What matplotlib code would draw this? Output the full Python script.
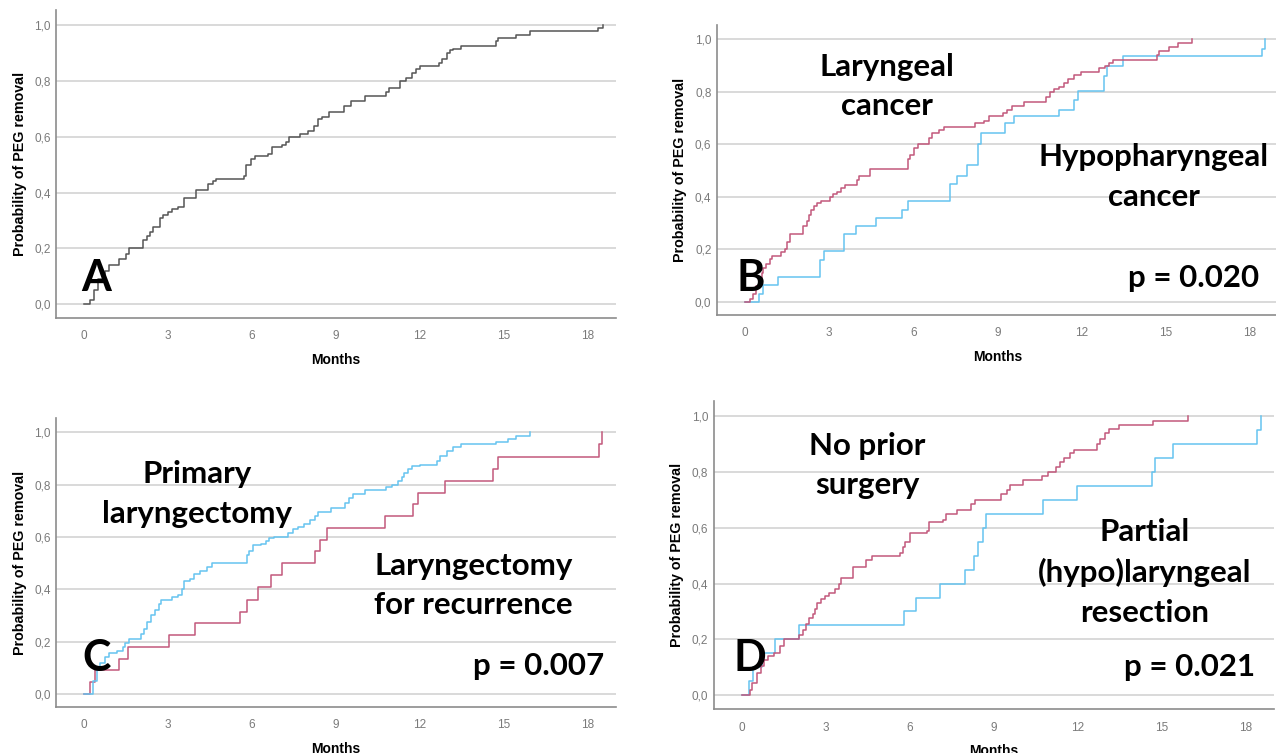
import matplotlib.pyplot as plt

# Kaplan-Meier style cumulative probability of PEG removal (months)
months_all = [0, 0.19, 0.35, 0.5, 0.73, 0.87, 1.24, 1.5, 1.6, 2.1,
              2.25, 2.35, 2.45, 2.69, 2.8, 2.98, 3.13, 3.35, 3.57, 4.0,
              4.44, 4.6, 4.7, 5.7, 5.79, 5.97, 6.11, 6.55, 6.7, 7.06,
              7.2, 7.32, 7.71, 8.0, 8.22, 8.37, 8.5, 8.73, 9.3, 9.53,
              10.04, 10.77, 10.9, 11.28, 11.5, 11.72, 11.85, 12.0, 12.66, 12.8,
              12.95, 13.06, 13.17, 13.46, 14.7, 14.8, 15.42, 15.94, 18.37, 18.53]
prob_all = [0, 0.014, 0.05, 0.09, 0.12, 0.14, 0.16, 0.18, 0.20, 0.23,
            0.245, 0.26, 0.275, 0.31, 0.32, 0.33, 0.34, 0.35, 0.38, 0.41,
            0.43, 0.44, 0.45, 0.46, 0.50, 0.52, 0.53, 0.54, 0.565, 0.57,
            0.58, 0.60, 0.61, 0.62, 0.64, 0.665, 0.67, 0.69, 0.71, 0.73,
            0.745, 0.76, 0.775, 0.80, 0.81, 0.83, 0.845, 0.855, 0.865, 0.88,
            0.90, 0.91, 0.915, 0.925, 0.945, 0.955, 0.965, 0.978, 0.99, 1.0]

# B: tumour site
months_laryngeal = [0, 0.17, 0.29, 0.39, 0.5, 0.6, 0.65, 0.75, 0.9, 0.97,
                    1.29, 1.43, 1.5, 1.62, 2.08, 2.2, 2.27, 2.34, 2.46, 2.57,
                    2.7, 3.02, 3.14, 3.28, 3.43, 3.57, 4.0, 4.08, 4.45, 5.81,
                    5.88, 6.03, 6.17, 6.56, 6.68, 6.9, 7.08, 8.2, 8.53, 8.7,
                    9.2, 9.35, 9.5, 9.93, 10.73, 10.87, 11.0, 11.2, 11.38, 11.52,
                    11.74, 11.96, 12.6, 12.82, 12.97, 13.1, 14.7, 14.77, 15.13, 15.42,
                    15.93]
prob_laryngeal = [0, 0.01, 0.03, 0.06, 0.09, 0.11, 0.13, 0.145, 0.165, 0.175,
                  0.19, 0.20, 0.23, 0.26, 0.29, 0.31, 0.33, 0.35, 0.365, 0.375,
                  0.385, 0.40, 0.41, 0.42, 0.435, 0.445, 0.465, 0.48, 0.505, 0.545,
                  0.56, 0.585, 0.60, 0.625, 0.645, 0.655, 0.665, 0.68, 0.69, 0.71,
                  0.72, 0.73, 0.745, 0.76, 0.78, 0.80, 0.81, 0.82, 0.835, 0.85,
                  0.865, 0.875, 0.89, 0.90, 0.91, 0.92, 0.94, 0.955, 0.97, 0.985,
                  1.0]
months_hypo = [0, 0.5, 0.65, 1.16, 2.67, 2.8, 3.54, 3.96, 4.68, 5.6,
               5.81, 7.29, 7.55, 7.9, 8.3, 8.41, 9.28, 9.57, 11.2, 11.71,
               11.86, 12.78, 12.92, 13.47, 18.42, 18.53]
prob_hypo = [0, 0.03, 0.065, 0.095, 0.16, 0.195, 0.26, 0.29, 0.32, 0.35,
             0.385, 0.45, 0.48, 0.52, 0.60, 0.645, 0.68, 0.71, 0.73, 0.77,
             0.805, 0.86, 0.90, 0.935, 0.965, 1.0]

# C: primary vs salvage laryngectomy
months_primary = [0, 0.33, 0.44, 0.58, 0.73, 0.87, 1.16, 1.38, 1.46, 1.6,
                  2.04, 2.14, 2.26, 2.4, 2.52, 2.66, 2.76, 3.13, 3.35, 3.49,
                  3.57, 3.78, 3.93, 4.15, 4.37, 4.58, 5.82, 5.9, 6.04, 6.33,
                  6.48, 6.62, 6.77, 7.28, 7.47, 7.64, 7.86, 8.08, 8.25, 8.37,
                  8.8, 9.31, 9.46, 9.6, 10.04, 10.77, 10.99, 11.2, 11.35, 11.42,
                  11.57, 11.71, 12.0, 12.59, 12.73, 12.95, 13.17, 13.46, 14.7, 15.13,
                  15.42, 15.93]
prob_primary = [0, 0.05, 0.10, 0.12, 0.14, 0.155, 0.165, 0.18, 0.195, 0.21,
                0.23, 0.25, 0.275, 0.30, 0.32, 0.345, 0.36, 0.37, 0.38, 0.40,
                0.43, 0.44, 0.46, 0.47, 0.485, 0.50, 0.53, 0.545, 0.57, 0.575,
                0.585, 0.595, 0.60, 0.615, 0.63, 0.64, 0.65, 0.665, 0.68, 0.695,
                0.71, 0.73, 0.75, 0.765, 0.78, 0.79, 0.80, 0.815, 0.83, 0.845,
                0.86, 0.87, 0.875, 0.89, 0.91, 0.93, 0.945, 0.955, 0.965, 0.975,
                0.985, 1.0]
months_recurrence = [0, 0.22, 0.39, 1.24, 1.57, 3.03, 3.97, 5.57, 5.82, 6.21,
                     6.69, 7.06, 8.26, 8.44, 8.66, 10.74, 11.74, 11.93, 12.88, 14.62,
                     14.8, 18.38, 18.51]
prob_recurrence = [0, 0.045, 0.09, 0.135, 0.18, 0.225, 0.27, 0.315, 0.36, 0.41,
                   0.455, 0.50, 0.545, 0.59, 0.635, 0.68, 0.725, 0.77, 0.815, 0.86,
                   0.905, 0.955, 1.0]

# D: prior surgery
months_no_prior = [0, 0.29, 0.36, 0.54, 0.68, 0.8, 0.94, 1.16, 1.38, 1.52,
                   2.03, 2.17, 2.29, 2.39, 2.53, 2.6, 2.68, 2.82, 2.97, 3.11,
                   3.33, 3.48, 3.55, 3.98, 4.42, 4.66, 5.65, 5.77, 5.84, 6.0,
                   6.6, 6.69, 7.17, 7.31, 7.67, 8.18, 8.33, 9.27, 9.48, 9.58,
                   10.06, 10.72, 10.93, 11.22, 11.37, 11.51, 11.73, 11.87, 12.67, 12.81,
                   12.96, 13.1, 13.47, 14.7, 15.93]
prob_no_prior = [0, 0.02, 0.045, 0.08, 0.105, 0.125, 0.14, 0.15, 0.175, 0.20,
                 0.215, 0.235, 0.255, 0.275, 0.29, 0.31, 0.33, 0.345, 0.355, 0.365,
                 0.38, 0.40, 0.42, 0.46, 0.485, 0.50, 0.51, 0.53, 0.55, 0.58,
                 0.59, 0.62, 0.63, 0.65, 0.665, 0.685, 0.70, 0.72, 0.735, 0.755,
                 0.77, 0.785, 0.80, 0.82, 0.835, 0.85, 0.87, 0.88, 0.90, 0.92,
                 0.94, 0.955, 0.97, 0.985, 1.0]
months_partial = [0, 0.26, 0.41, 0.72, 1.2, 2.03, 5.79, 6.23, 7.07, 7.96,
                  8.28, 8.43, 8.62, 8.73, 10.76, 11.96, 14.65, 14.74, 15.39, 18.39,
                  18.53]
prob_partial = [0, 0.05, 0.10, 0.15, 0.20, 0.25, 0.30, 0.35, 0.40, 0.45,
                0.50, 0.55, 0.60, 0.65, 0.70, 0.75, 0.80, 0.85, 0.90, 0.95,
                1.0]

x_ticks = [0, 3, 6, 9, 12, 15, 18]
y_ticks = [0.0, 0.2, 0.4, 0.6, 0.8, 1.0]
y_tick_labels = ['0,0', '0,2', '0,4', '0,6', '0,8', '1,0']

RED = '#c2587c'
BLUE = '#66c4f0'
GREY = '#555555'
ANNOT_FONT = ['Lato', 'DejaVu Sans']
TICK_FONT = ['Liberation Sans Narrow', 'Liberation Sans', 'DejaVu Sans']
LABEL_FONT = ['Liberation Sans', 'DejaVu Sans']


def style_axes(ax):
    ax.set_xlim(-1, 19)
    ax.set_ylim(-0.05, 1.055)
    ax.set_xticks(x_ticks)
    ax.set_yticks(y_ticks)
    ax.set_yticklabels(y_tick_labels)
    for lab in ax.get_xticklabels() + ax.get_yticklabels():
        lab.set_family(TICK_FONT)
    ax.tick_params(axis='both', length=0, labelsize=8.5, colors='#7a7a7a')
    ax.tick_params(axis='x', pad=9)
    ax.tick_params(axis='y', pad=4)
    ax.grid(axis='y', color='#d9d9d9', linewidth=1.4)
    ax.set_axisbelow(True)
    for side in ['top', 'right']:
        ax.spines[side].set_visible(False)
    for side in ['left', 'bottom']:
        ax.spines[side].set_color('#8c8c8c')
        ax.spines[side].set_linewidth(1.2)
    ax.set_xlabel('Months', fontsize=10, fontweight='bold', family=LABEL_FONT, labelpad=7.5)
    ax.set_ylabel('Probability of PEG removal', fontsize=10.3, fontweight='bold',
                  family=LABEL_FONT, labelpad=5.5)


def big_text(ax, x, y, s, size=22.5):
    ax.text(x, y, s, fontsize=size, fontweight='bold', family=ANNOT_FONT,
            ha='center', va='center', linespacing=1.5, color='black')


fig = plt.figure(figsize=(12.76, 7.53), dpi=100)
ax_a = fig.add_axes([0.0441, 0.5777, 0.4386, 0.4090])
ax_b = fig.add_axes([0.5619, 0.5817, 0.4397, 0.3851])
ax_c = fig.add_axes([0.0441, 0.0611, 0.4386, 0.3838])
ax_d = fig.add_axes([0.5594, 0.0584, 0.4389, 0.4090])

for ax in [ax_a, ax_b, ax_c, ax_d]:
    style_axes(ax)

# A: whole cohort
ax_a.step(months_all, prob_all, where='post', color=GREY, linewidth=1.1)
big_text(ax_a, 0.44, 0.093, 'A', size=31)

# B
ax_b.step(months_hypo, prob_hypo, where='post', color=BLUE, linewidth=1.1)
ax_b.step(months_laryngeal, prob_laryngeal, where='post', color=RED, linewidth=1.1)
big_text(ax_b, 0.2, 0.09, 'B', size=31)
big_text(ax_b, 5.06, 0.82, 'Laryngeal\ncancer')
big_text(ax_b, 14.58, 0.475, 'Hypopharyngeal\ncancer')
big_text(ax_b, 16.0, 0.09, 'p = 0.020')

# C
ax_c.step(months_recurrence, prob_recurrence, where='post', color=RED, linewidth=1.1)
ax_c.step(months_primary, prob_primary, where='post', color=BLUE, linewidth=1.1)
big_text(ax_c, 0.44, 0.138, 'C', size=31)
big_text(ax_c, 4.04, 0.765, 'Primary\nlaryngectomy')
big_text(ax_c, 13.92, 0.415, 'Laryngectomy\nfor recurrence')
big_text(ax_c, 16.25, 0.107, 'p = 0.007')

# D
ax_d.step(months_partial, prob_partial, where='post', color=BLUE, linewidth=1.1)
ax_d.step(months_no_prior, prob_no_prior, where='post', color=RED, linewidth=1.1)
big_text(ax_d, 0.28, 0.133, 'D', size=31)
big_text(ax_d, 4.48, 0.824, 'No prior\nsurgery')
big_text(ax_d, 14.4, 0.44, 'Partial\n(hypo)laryngeal\nresection')
big_text(ax_d, 16.0, 0.1, 'p = 0.021')

plt.savefig('out.png', dpi=100)
